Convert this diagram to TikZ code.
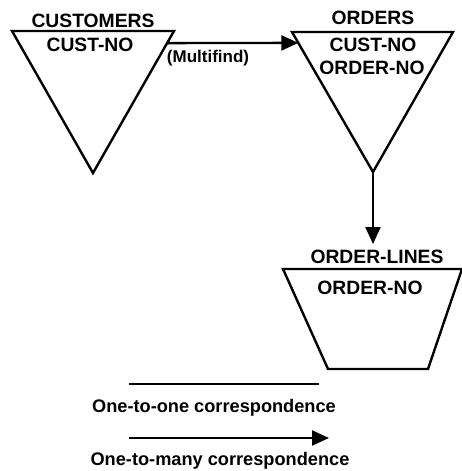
\documentclass[tikz,border=0pt]{standalone}
\usepackage{fontspec}
\setmainfont{Liberation Sans}
\usetikzlibrary{arrows.meta,calc}
\begin{document}
\begin{tikzpicture}[x=1pt,y=-1pt,
  seg/.style={line width=2.4pt,line join=miter},
  rel/.style={line width=2.4pt,-{Triangle[length=17pt,width=15pt]}},
  lbl/.style={font=\fontsize{19.3}{21}\selectfont\bfseries,inner sep=0pt},
  key/.style={font=\fontsize{18.2}{20}\selectfont\bfseries,inner sep=0pt},
  small/.style={font=\fontsize{17}{20}\selectfont\bfseries,inner sep=0pt}]
\useasboundingbox (0,0) rectangle (461,471);

% CUSTOMERS record (inverted triangle)
\coordinate (c1) at (12,31);
\coordinate (c2) at (174,31);
\coordinate (c3) at (93,173);
\draw[seg] (c1) -- (c2) -- (c3) -- cycle;
\node[lbl] (custname) at (93,21) {CUSTOMERS};
\node[lbl] (custkey) at (90,45) {CUST-NO};

% ORDERS record
\coordinate (o1) at (292,32);
\coordinate (o2) at (453,32);
\coordinate (o3) at (373,172);
\draw[seg] (o1) -- (o2) -- (o3) -- cycle;
\node[lbl] (ordname) at (373,18) {ORDERS};
\node[lbl] (ordkey1) at (373,45) {CUST-NO};
\node[lbl] (ordkey2) at (372,68) {ORDER-NO};

% ORDER-LINES record (trapezoid)
\coordinate (l1) at (283,269);
\coordinate (l2) at (462,269);
\coordinate (l3) at (428,369);
\coordinate (l4) at (328,369);
\draw[seg] (l4) -- (l1) -- (l2) -- (l3) -- cycle;
\node[lbl] (linname) at (377,257) {ORDER-LINES};
\node[lbl] (linkey) at (370,288) {ORDER-NO};

% relationships
\coordinate (cr) at ($(c2)!0.085!(c3)$);
\coordinate (ol) at ($(o1)!0.078!(o3)$);
\draw[rel] (cr) -- (ol);
\node[small] (mf) at (208,58) {(Multifind)};
\coordinate (ltip) at (373,244);
\draw[rel] (o3) -- (ltip);

% legend
\coordinate (k1a) at (129,384);
\coordinate (k1b) at (319,384);
\draw[line width=2.4pt] (k1a) -- (k1b);
\node[key] (k1t) at (214,408) {One-to-one correspondence};
\coordinate (k2a) at (129,438);
\coordinate (k2b) at (329,438);
\draw[rel] (k2a) -- (k2b);
\node[key] (k2t) at (220,461) {One-to-many correspondence};
\end{tikzpicture}
\end{document}
